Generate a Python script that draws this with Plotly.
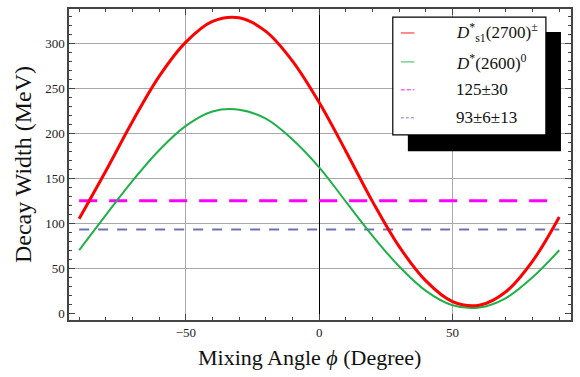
import plotly.graph_objects as go

# Data
phi = [-90, -80, -70, -60, -50, -40, -30, -20, -10, 0, 10, 20, 30, 40, 50, 60, 70, 80, 90]
width_ds1 = [105, 158, 213, 263, 301, 324, 328, 313, 280, 234, 180, 124, 74, 36, 13, 9, 24, 58, 107]
width_d2600 = [70, 109, 147, 181, 208, 224, 226, 216, 193, 162, 124, 86, 52, 25, 9, 6.5, 17, 40, 70]
exp_phi = [-90, 90]
exp_ds1 = [125, 125]
exp_d2600 = [93, 93]

labels = ["<i>D</i><sup>*</sup><sub>s1</sub>(2700)<sup>±</sup>",
          "<i>D</i><sup>*</sup>(2600)<sup>0</sup>",
          "125±30", "93±6±13"]
colors = ["#ff0000", "#20b04a", "#ff00ff", "#7070b8"]
x_title = "Mixing Angle <i>ϕ</i> (Degree)"
y_title = "Decay Width (MeV)"

FONT = "Liberation Serif"

fig = go.Figure()
fig.add_trace(go.Scatter(x=exp_phi, y=exp_d2600, mode="lines", name=labels[3],
                         line=dict(color=colors[3], width=2, dash="10px,9px")))
fig.add_trace(go.Scatter(x=exp_phi, y=exp_ds1, mode="lines", name=labels[2],
                         line=dict(color=colors[2], width=3, dash="18px,12px")))
fig.add_trace(go.Scatter(x=phi, y=width_d2600, mode="lines", name=labels[1],
                         line=dict(color=colors[1], width=2, shape="spline")))
fig.add_trace(go.Scatter(x=phi, y=width_ds1, mode="lines", name=labels[0],
                         line=dict(color=colors[0], width=3, shape="spline")))

axis_common = dict(
    showline=True, mirror="allticks", linecolor="#444", linewidth=1.5,
    ticks="inside", ticklen=6, tickcolor="#444", tickwidth=1,
    tickfont=dict(family=FONT, size=13, color="#222"),
    showgrid=True, gridcolor="#a8a8a8", gridwidth=1.2,
)

fig.update_xaxes(**axis_common, range=[-93.8, 94.4], tickvals=[-50, 0, 50],
                 ticktext=["−50", "0", "50"],
                 minor=dict(ticks="inside", ticklen=3.5, dtick=10, tick0=0, tickcolor="#444", showgrid=False),
                 zeroline=True, zerolinecolor="#000", zerolinewidth=1.2)
fig.update_yaxes(**axis_common, range=[-7.4, 337.8], tickvals=[0, 50, 100, 150, 200, 250, 300],
                 minor=dict(ticks="inside", ticklen=3.5, dtick=10, tick0=0, tickcolor="#444", showgrid=False),
                 zeroline=True, zerolinecolor="rgba(0,0,0,0)",
                 title=dict(text=y_title, font=dict(family=FONT, size=24, color="#111"), standoff=7))

# Custom legend with drop shadow (Mathematica style)
shapes = [
    dict(type="rect", xref="paper", yref="paper", x0=0.675, x1=0.980, y0=0.543, y1=0.926,
         fillcolor="#000", line=dict(color="#000", width=0), layer="above"),
    dict(type="rect", xref="paper", yref="paper", x0=0.645, x1=0.950, y0=0.595, y1=0.974,
         fillcolor="#fff", line=dict(color="#000", width=1.2), layer="above"),
]
ys = [0.923, 0.830, 0.740, 0.650]
dashes = ["solid", "solid", "4px,2px", "3px,2px"]
annotations = [dict(xref="paper", yref="paper", x=0.480, y=-0.119, xanchor="center", yanchor="middle",
                    text=x_title, showarrow=False, font=dict(family=FONT, size=22, color="#111"))]
for lab, col, yy, dsh in zip(labels, colors, ys, dashes):
    shapes.append(dict(type="line", xref="paper", yref="paper", x0=0.661, x1=0.688, y0=yy, y1=yy,
                       line=dict(color=col, width=1.5, dash=dsh), opacity=0.6, layer="above"))
    annotations.append(dict(xref="paper", yref="paper", x=0.766, y=yy, xanchor="left", yanchor="middle",
                            text=lab, showarrow=False, font=dict(family=FONT, size=17, color="#111")))

fig.update_layout(
    width=580, height=377,
    margin=dict(l=69, r=7, t=9, b=57),
    paper_bgcolor="white", plot_bgcolor="white",
    showlegend=False,
    shapes=shapes, annotations=annotations,
    font=dict(family=FONT),
)

fig.write_html("out.html")
